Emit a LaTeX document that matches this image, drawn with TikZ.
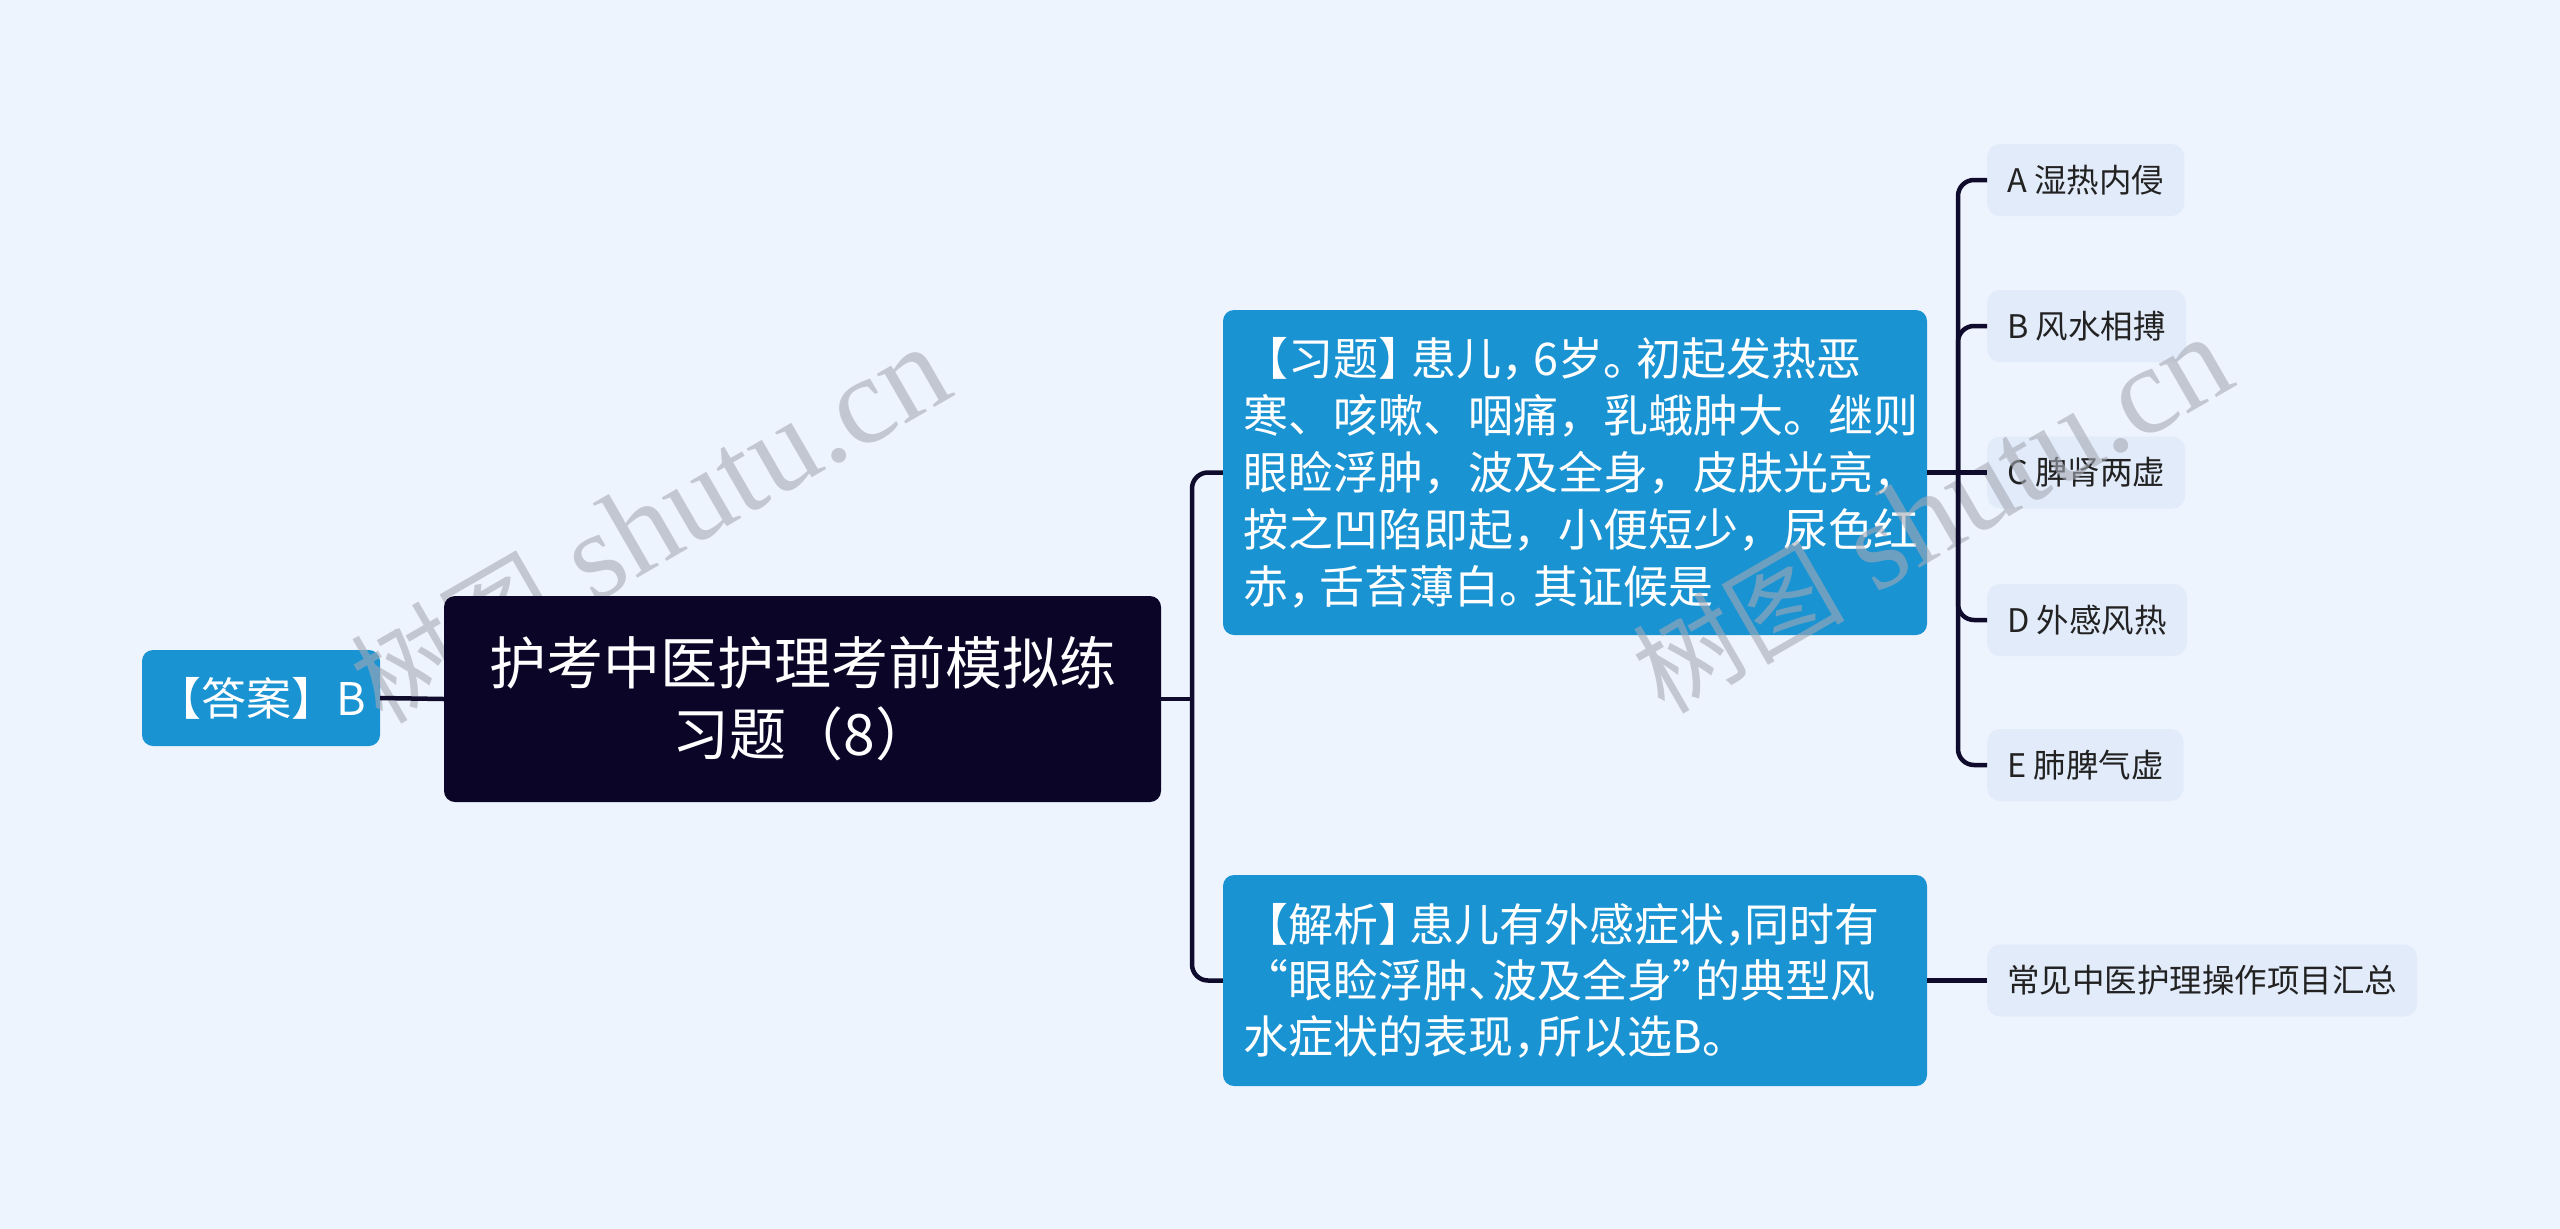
\documentclass[tikz,border=0pt]{standalone}
\usepackage{fontspec}
\setmainfont{Noto Sans CJK SC}
\newfontfamily\wmlatin{Liberation Serif}
\newfontfamily\wmcjk{Noto Sans CJK SC}
\definecolor{bgc}{HTML}{EEF4FE}
\definecolor{blu}{HTML}{1A93D2}
\definecolor{rootc}{HTML}{0B0628}
\definecolor{optc}{HTML}{E2EBFA}
\definecolor{linec}{HTML}{0F0B2C}
\definecolor{txtc}{HTML}{222222}
\definecolor{wmc}{RGB}{165,170,180}
\tikzset{
  bluebox/.style={fill=blu, rounded corners=11pt, text=white, inner sep=0pt},
  rootbox/.style={fill=rootc, rounded corners=11pt, text=white, inner sep=0pt},
  optbox/.style={fill=optc, rounded corners=13pt, text=txtc, inner xsep=20pt, inner ysep=0pt,
    minimum height=72pt, anchor=west, font=\fontsize{32.5}{40}\selectfont},
  conn/.style={draw=linec, line width=4.5pt},
  wm/.style={text=wmc, opacity=0.6, text opacity=0.6, inner sep=0pt}
}
\begin{document}
\begin{tikzpicture}[x=1pt,y=-1pt]
\useasboundingbox[fill=bgc] (0,0) rectangle (2560,1229);

\node[bluebox, minimum width=238pt, minimum height=96pt, font=\fontsize{45}{56}\selectfont] (ans) at (261,698) {【答案】B};

\node[bluebox, text width=664pt, inner xsep=20pt, minimum height=325pt, align=left,
  font=\fontsize{45}{57}\selectfont] (q) at (1575,472.5)
  {【习题】\kern-.25em 患儿，\kern-.3em 6岁。\kern-.25em 初起发热恶\\寒、咳嗽、咽痛，乳蛾肿大。继则\\眼睑浮肿，波及全身，皮肤光亮，\\按之凹陷即起，小便短少，尿色红\\赤，\kern-.3em 舌苔薄白。\kern-.25em 其证候是};

\node[bluebox, text width=664pt, inner xsep=20pt, minimum height=211pt, align=left,
  font=\fontsize{45}{56}\selectfont] (an) at (1575,980.5)
  {【解析】\kern-.3em 患儿有外感症状，\kern-.55em 同时有\\“眼睑浮肿、\kern-.45em 波及全身”\kern-.5em 的典型风\\水症状的表现，\kern-.45em 所以选B。};

\node[optbox] (oA) at (1987,180) {A 湿热内侵};
\node[optbox] (oB) at (1987,326) {B 风水相搏};
\node[optbox] (oC) at (1987,472.5) {C 脾肾两虚};
\node[optbox] (oD) at (1987,620) {D 外感风热};
\node[optbox] (oE) at (1987,765) {E 肺脾气虚};
\node[optbox] (oF) at (1987,980.5) {常见中医护理操作项目汇总};

\node[wm, rotate=30] (w1) at (650,525) {\wmcjk\fontsize{106}{120}\selectfont 树图\wmlatin\fontsize{125}{130}\selectfont\ shutu.cn};
\node[wm, rotate=30] (w2) at (1932,515) {\wmcjk\fontsize{106}{120}\selectfont 树图\wmlatin\fontsize{125}{130}\selectfont\ shutu.cn};

\node[rootbox, minimum width=717pt, minimum height=206pt, align=center,
  font=\fontsize{57}{71}\selectfont] (root) at (802.5,699) {护考中医护理考前模拟练\\习题（8）};

\coordinate (j1) at (1192,699);
\coordinate (j2) at (1958,472.5);
\draw[conn] (ans.east) -- (root.west);
\draw[conn] (root.east) -- (j1);
\draw[conn, rounded corners=16pt] (q.west) -| (j1) |- (an.west);
\draw[conn] (q.east) -- (oC.west);
\draw[conn, rounded corners=16pt] (oA.west) -| (j2) |- (oE.west);
\draw[conn, rounded corners=16pt] (oB.west) -| (j2);
\draw[conn, rounded corners=16pt] (oD.west) -| (j2);
\draw[conn] (an.east) -- (oF.west);
\end{tikzpicture}
\end{document}
